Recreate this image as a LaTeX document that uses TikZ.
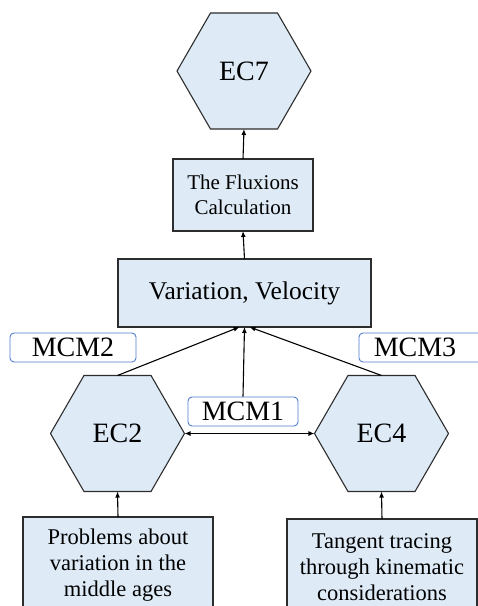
\documentclass[tikz,border=0pt]{standalone}
\usepackage{fontspec}
\setmainfont{Liberation Serif}
\usetikzlibrary{shapes.geometric,arrows.meta}
\definecolor{boxblue}{RGB}{222,235,247}
\definecolor{edgegray}{RGB}{45,45,45}
\definecolor{labelblue}{RGB}{80,125,205}

\begin{document}
\begin{tikzpicture}[x=1pt,y=-1pt,
    hexa/.style={regular polygon, regular polygon sides=6, minimum size=134pt,
      inner sep=0pt, outer sep=0pt, draw=edgegray, line width=1.1pt, fill=boxblue,
      font=\fontsize{28}{33}\selectfont},
    block/.style={rectangle, draw=edgegray, line width=1.1pt, fill=boxblue,
      inner sep=0pt, outer sep=0pt, align=center},
    mcm/.style={rectangle, rounded corners=4pt, draw=labelblue, line width=0.9pt,
      fill=white, minimum width=126pt, minimum height=29pt, inner sep=0pt,
      font=\fontsize{28}{31}\selectfont},
    arr/.style={-{Latex[length=6pt,width=5pt]}, line width=1.1pt, draw=black}]

    % Fix the page size
    \useasboundingbox (0,0) rectangle (478,606);

    % Draw the hexagons
    \node[hexa] (ec7) at (244,71) {EC7};
    \node[hexa] (ec2) at (117.5,433.5) {EC2};
    \node[hexa] (ec4) at (381.5,433.5) {EC4};

    % Draw the boxes
    \node[block, minimum width=140pt, minimum height=72pt,
      font=\fontsize{21}{25}\selectfont] (flux) at (243,195) {The Fluxions\\Calculation};
    \node[block, minimum width=253pt, minimum height=68pt,
      font=\fontsize{25.5}{30}\selectfont] (var) at (244.5,293) {Variation, Velocity};
    \node[block, minimum width=190pt, minimum height=97pt,
      font=\fontsize{22.5}{26}\selectfont] (prob) at (118,565.5)
      {Problems about\\variation in the\\middle ages};
    \node[block, minimum width=190pt, minimum height=97pt,
      font=\fontsize{22.5}{26}\selectfont] (tang) at (382,567.5)
      {Tangent tracing\\through kinematic\\considerations};

    % Draw the labels
    \node[mcm] (mcm2) at (73,347.5) {MCM2};
    \node[mcm] (mcm3) at (422,347.5) {MCM3\hspace*{14pt}};
    \node[mcm, minimum width=110pt] (mcm1) at (243,411.5) {MCM1};

    % Draw the arrows
    \draw[arr] (ec2.north) -- ([xshift=-5pt]var.south);
    \draw[arr] (mcm1.north) -- (var.south);
    \draw[arr] (ec4.north) -- ([xshift=5pt]var.south);
    \draw[arr] (var.north) -- (flux.south);
    \draw[arr] (flux.north) -- (ec7.south);
    \draw[{Latex[length=6pt,width=5pt]}-{Latex[length=6pt,width=5pt]}, line width=1.1pt]
      (ec2.east) -- (ec4.west);
    \draw[arr] (prob.north) -- (ec2.south);
    \draw[arr] (tang.north) -- (ec4.south);

\end{tikzpicture}
\end{document}
